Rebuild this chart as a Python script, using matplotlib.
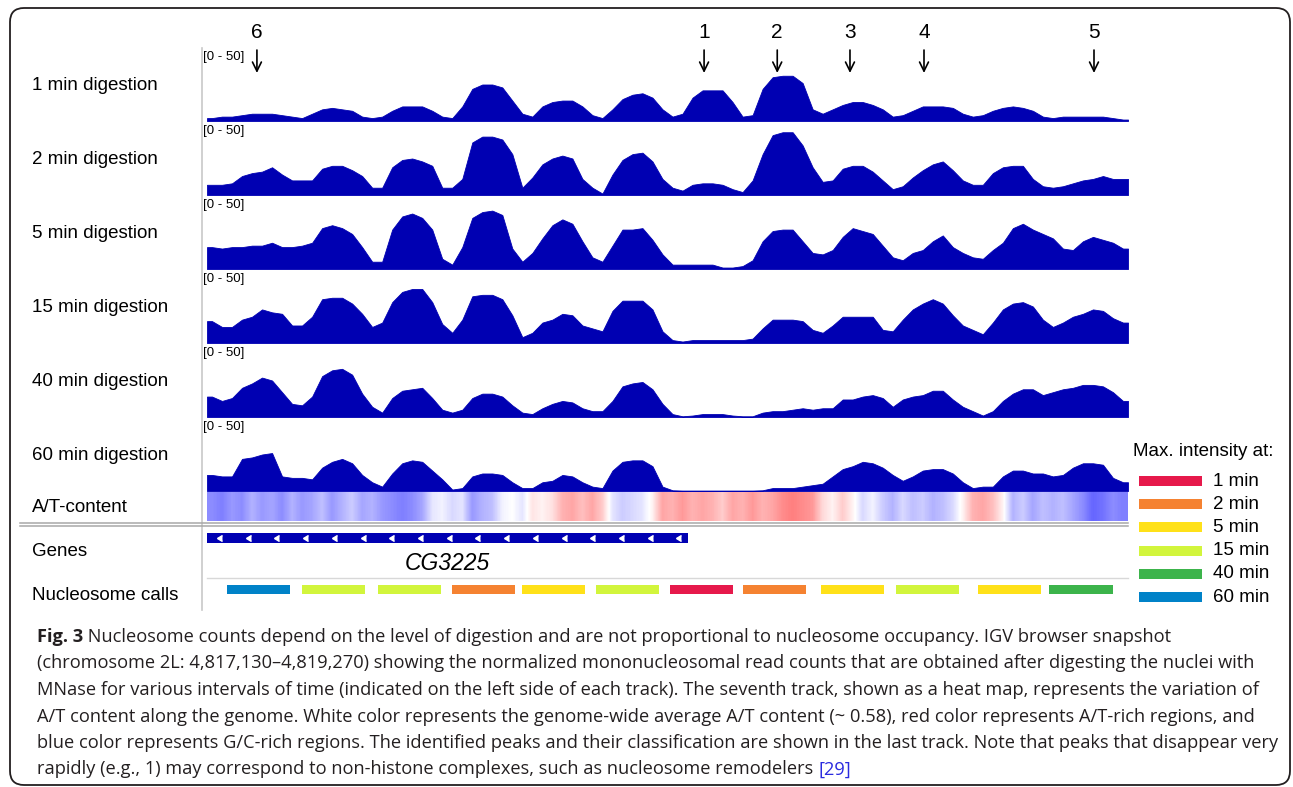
import numpy as np
import matplotlib
matplotlib.use("Agg")
import matplotlib.pyplot as plt
from matplotlib.patches import FancyBboxPatch, Rectangle
from matplotlib.colors import LinearSegmentedColormap

plt.rcParams['font.family'] = ['Liberation Sans', 'DejaVu Sans']

W, H = 1293, 787
START, END = 4817130, 4819270   # chr2L window
N_BINS = 92
YMAX = 50

track_names = ["1 min digestion", "2 min digestion", "5 min digestion",
               "15 min digestion", "40 min digestion", "60 min digestion"]

# normalized mononucleosomal read counts per bin (data range 0-50)
cov_1min = [2, 3, 3, 4, 5, 5, 5, 4, 3, 2,
            5, 8, 9, 8, 7, 3, 2, 3, 7, 10,
            10, 10, 7, 3, 2, 10, 22, 25, 25, 23,
            14, 5, 3, 10, 13, 14, 14, 10, 4, 2,
            8, 15, 18, 19, 16, 8, 3, 5, 16, 21,
            21, 21, 13, 3, 4, 22, 30, 31, 31, 26,
            8, 5, 8, 11, 13, 13, 11, 8, 3, 4,
            7, 10, 10, 10, 9, 5, 3, 4, 7, 9,
            10, 9, 7, 3, 2, 3, 3, 3, 3, 3,
            2, 1]
cov_2min = [7, 7, 8, 13, 15, 16, 19, 14, 10, 10,
            10, 18, 20, 20, 17, 13, 5, 5, 19, 24,
            25, 23, 20, 5, 5, 11, 36, 40, 40, 38,
            28, 5, 12, 21, 25, 27, 25, 11, 5, 1,
            14, 24, 28, 29, 23, 11, 5, 3, 7, 8,
            8, 7, 4, 2, 10, 28, 41, 43, 43, 34,
            19, 9, 10, 18, 20, 20, 16, 10, 4, 6,
            12, 17, 21, 23, 17, 10, 7, 7, 15, 19,
            20, 20, 11, 6, 5, 6, 8, 10, 11, 13,
            11, 11]
cov_5min = [15, 14, 15, 15, 16, 16, 18, 15, 15, 16,
            18, 28, 30, 28, 24, 15, 5, 5, 27, 36,
            38, 35, 27, 7, 3, 15, 35, 39, 40, 37,
            14, 5, 11, 21, 30, 34, 31, 19, 8, 5,
            16, 27, 27, 28, 20, 10, 3, 3, 3, 3,
            3, 1, 1, 2, 6, 19, 26, 27, 27, 19,
            11, 10, 13, 22, 28, 26, 24, 16, 8, 6,
            11, 13, 19, 23, 15, 11, 8, 7, 13, 18,
            28, 31, 27, 24, 21, 14, 13, 19, 22, 20,
            18, 14]
cov_15min = [15, 11, 11, 16, 18, 23, 21, 20, 12, 12,
             18, 30, 31, 31, 27, 20, 11, 14, 28, 35,
             37, 37, 28, 13, 7, 16, 32, 33, 33, 30,
             19, 4, 7, 14, 16, 20, 19, 12, 10, 8,
             22, 29, 29, 29, 23, 8, 2, 1, 2, 2,
             2, 2, 2, 2, 3, 10, 16, 16, 16, 15,
             9, 7, 12, 18, 18, 18, 18, 9, 8, 16,
             23, 27, 30, 27, 19, 12, 9, 6, 14, 23,
             27, 28, 25, 16, 11, 14, 18, 20, 23, 22,
             17, 14]
cov_40min = [14, 11, 13, 20, 23, 27, 25, 17, 9, 8,
             14, 28, 32, 33, 29, 16, 7, 3, 13, 18,
             19, 20, 13, 5, 3, 5, 13, 16, 16, 14,
             8, 3, 2, 6, 9, 11, 10, 6, 4, 4,
             11, 21, 23, 24, 19, 9, 2, 0.5, 1, 2,
             2, 2, 1, 0.5, 0.5, 3, 4, 4, 5, 6,
             5, 6, 6, 12, 12, 14, 15, 13, 7, 12,
             14, 15, 18, 18, 12, 7, 4, 1, 4, 11,
             16, 19, 19, 15, 17, 19, 20, 22, 22, 21,
             17, 11]
cov_60min = [11, 10, 10, 22, 23, 25, 26, 10, 9, 9,
             8, 16, 20, 22, 19, 11, 6, 3, 12, 19,
             21, 20, 14, 8, 1, 2, 10, 12, 12, 11,
             6, 2, 2, 6, 7, 11, 10, 6, 3, 2,
             14, 20, 21, 21, 17, 3, 0.5, 0.3, 0.3, 0.3,
             0.3, 0.3, 0.3, 0.3, 0.3, 0.5, 2, 2, 2, 3,
             4, 5, 10, 15, 17, 20, 19, 16, 11, 7,
             10, 14, 15, 15, 12, 6, 2, 3, 3, 10,
             14, 14, 12, 12, 10, 11, 16, 19, 19, 18,
             9, 6]

# A/T content relative to genome average: <0 G/C-rich (blue), >0 A/T-rich (red)
at_content = [-0.45, -0.5, -0.4, -0.45, -0.3, -0.4, -0.35, -0.45, -0.3, -0.4,
              -0.35, -0.25, -0.4, -0.3, -0.2, -0.35, -0.3, -0.4, -0.45, -0.5,
              -0.45, -0.35, -0.1, -0.05, -0.15, -0.1, -0.4, -0.3, -0.25, -0.05,
              0.0, -0.1, 0.1, 0.05, 0.12, 0.3, 0.35, 0.25, 0.35, 0.2,
              -0.1, -0.2, -0.15, -0.1, 0.05, 0.35, 0.3, 0.4, 0.3, 0.35,
              0.3, 0.2, 0.35, 0.3, 0.4, 0.3, 0.35, 0.45, 0.5, 0.45,
              0.4, 0.15, 0.05, 0.2, 0.05, -0.15, -0.05, -0.2, -0.3, -0.15,
              -0.25, -0.2, -0.3, -0.25, -0.15, 0.05, 0.3, 0.35, 0.25, 0.05,
              -0.3, -0.2, -0.35, -0.25, -0.3, -0.25, -0.35, -0.45, -0.6, -0.55,
              -0.45, -0.5]

gene_name = "CG3225"
gene_start, gene_end = 4817130, 4818248

# nucleosome calls: start position and time of maximal intensity
NUC_LEN = 147
call_starts = [4817176, 4817351, 4817527, 4817699, 4817862, 4818034,
               4818206, 4818375, 4818557, 4818731, 4818922, 4819087]
call_classes = ["60 min", "15 min", "15 min", "2 min", "5 min", "15 min",
                "1 min", "2 min", "5 min", "15 min", "5 min", "40 min"]

legend_classes = ["1 min", "2 min", "5 min", "15 min", "40 min", "60 min"]
class_colors = ["#e6194b", "#f58231", "#ffe119", "#d2f53c", "#3cb44b", "#0082c8"]

peak_ids = ["6", "1", "2", "3", "4", "5"]
peak_pos = [4817246, 4818285, 4818455, 4818624, 4818796, 4819191]

BLUE = "#0000b2"
INK = "#231f20"

fig = plt.figure(figsize=(W / 100, H / 100), dpi=100)


def px_box(x0, y0, x1, y1):
    return [x0 / W, 1 - y1 / H, (x1 - x0) / W, (y1 - y0) / H]


ov = fig.add_axes([0, 0, 1, 1], zorder=0)
ov.set_xlim(0, W)
ov.set_ylim(H, 0)
ov.axis("off")

ov.add_patch(FancyBboxPatch((10, 8), 1280, 777,
                            boxstyle="round,pad=0,rounding_size=14",
                            fc="none", ec=INK, lw=1.3))

# panel separators
ov.plot([202, 202], [48, 610], color="#c8c8c8", lw=1.2)
ov.plot([20, 1128], [522.5, 522.5], color="#a8a8a8", lw=1.1)
ov.plot([20, 1128], [526, 526], color="#a8a8a8", lw=1.1)
ov.plot([207, 1128], [578, 578], color="#d8d8d8", lw=1.0)

LABEL_FS = 13.5
edges = np.linspace(START, END, N_BINS + 1)
centers = (edges[:-1] + edges[1:]) / 2
xs = np.concatenate([[START], centers, [END]])
tracks = [cov_1min, cov_2min, cov_5min, cov_15min, cov_40min, cov_60min]
track_axes = []
for k, (name, cov) in enumerate(zip(track_names, tracks)):
    base = 121 + 74 * k
    ax = fig.add_axes(px_box(207, base - 73, 1128, base))
    ax.set_xlim(START, END)
    ax.set_ylim(0, YMAX)
    ax.axis("off")
    ys = np.concatenate([[cov[0]], cov, [cov[-1]]])
    ax.fill_between(xs, ys, color=BLUE, lw=0.6, edgecolor=BLUE)
    ax.text(-0.004, 0.88, f"[0 - {YMAX}]", transform=ax.transAxes,
            fontsize=9.5, ha="left", va="center")
    ov.text(32, base - 36, name, fontsize=LABEL_FS, ha="left", va="center")
    track_axes.append(ax)

# peak markers above the first track
ax1 = track_axes[0]
for pid, p in zip(peak_ids, peak_pos):
    ax1.annotate("", xy=(p, 32.9), xytext=(p, 48.6),
                 arrowprops=dict(arrowstyle="->,head_length=0.65,head_width=0.32",
                                 lw=1.2, color="black", shrinkA=0, shrinkB=0),
                 annotation_clip=False)
    ax1.text(p, 60.3, pid, fontsize=15, ha="center", va="center", clip_on=False)

# A/T heat map
at_cmap = LinearSegmentedColormap.from_list("at", ["#0000ff", "#ffffff", "#ff0000"])
axh = fig.add_axes(px_box(207, 492, 1128, 521))
axh.imshow(np.array(at_content)[None, :], extent=(START, END, 0, 1),
           aspect="auto", cmap=at_cmap, vmin=-1, vmax=1, interpolation="bilinear")
axh.set_xlim(START, END)
axh.axis("off")
ov.text(32, 507, "A/T-content", fontsize=LABEL_FS, ha="left", va="center")

# gene track
axg = fig.add_axes(px_box(207, 528, 1128, 578))
axg.set_xlim(START, END)
axg.set_ylim(0, 50)
axg.axis("off")
axg.add_patch(Rectangle((gene_start, 35), gene_end - gene_start, 10, fc=BLUE, lw=0))
chev = np.arange(gene_start + 35, gene_end - 10, 66.7)
axg.plot(chev, np.full(len(chev), 40), ls="none", marker=8, ms=4.5,
         color="white", mec="white")
axg.text((gene_start + gene_end) / 2, 15, gene_name, fontsize=16.5,
         style="italic", ha="center", va="center")
ov.text(32, 552, "Genes", fontsize=LABEL_FS, ha="left", va="center")

# nucleosome calls
axc = fig.add_axes(px_box(207, 580, 1128, 600))
axc.set_xlim(START, END)
axc.set_ylim(0, 20)
axc.axis("off")
color_of = dict(zip(legend_classes, class_colors))
axc.broken_barh([(s, NUC_LEN) for s in call_starts], (6, 9),
                facecolors=[color_of[c] for c in call_classes], lw=0)
ov.text(32, 596, "Nucleosome calls", fontsize=LABEL_FS, ha="left", va="center")

# legend
ov.text(1133, 451, "Max. intensity at:", fontsize=LABEL_FS, ha="left", va="center")
for i, (lab, col) in enumerate(zip(legend_classes, class_colors)):
    yy = 481 + 23.2 * i
    ov.add_patch(Rectangle((1139, yy - 5), 63, 10, fc=col, lw=0))
    ov.text(1213, yy, lab, fontsize=LABEL_FS, ha="left", va="center")

# caption
CAP_FONT = ["Open Sans", "DejaVu Sans"]
renderer = fig.canvas.get_renderer()
line2 = ("(chromosome 2L: 4,817,130\u20134,819,270) showing the normalized mononucleosomal "
         "read counts that are obtained after digesting the nuclei with")
probe = ov.text(0, 0, line2, fontsize=10, family=CAP_FONT)
w10 = probe.get_window_extent(renderer).width
probe.remove()
CAP_FS = 10 * 1222 / w10

caption = [
    [("Fig. 3", "bold", INK),
     (" Nucleosome counts depend on the level of digestion and are not proportional "
      "to nucleosome occupancy. IGV browser snapshot", "normal", INK)],
    [(line2, "normal", INK)],
    [("MNase for various intervals of time (indicated on the left side of each track). "
      "The seventh track, shown as a heat map, represents the variation of", "normal", INK)],
    [("A/T content along the genome. White color represents the genome-wide average "
      "A/T content (~ 0.58), red color represents A/T-rich regions, and", "normal", INK)],
    [("blue color represents G/C-rich regions. The identified peaks and their "
      "classification are shown in the last track. Note that peaks that disappear very",
      "normal", INK)],
    [("rapidly (e.g., 1) may correspond to non-histone complexes, such as nucleosome "
      "remodelers ", "normal", INK), ("[29]", "normal", "#2b2bdf")],
]
for j, parts in enumerate(caption):
    x = 37
    yy = 637 + 26.5 * j
    for txt, wt, col in parts:
        t = ov.text(x, yy, txt, fontsize=CAP_FS, family=CAP_FONT, weight=wt,
                    color=col, ha="left", va="center")
        x += t.get_window_extent(renderer).width

fig.savefig("out.png", dpi=100)
